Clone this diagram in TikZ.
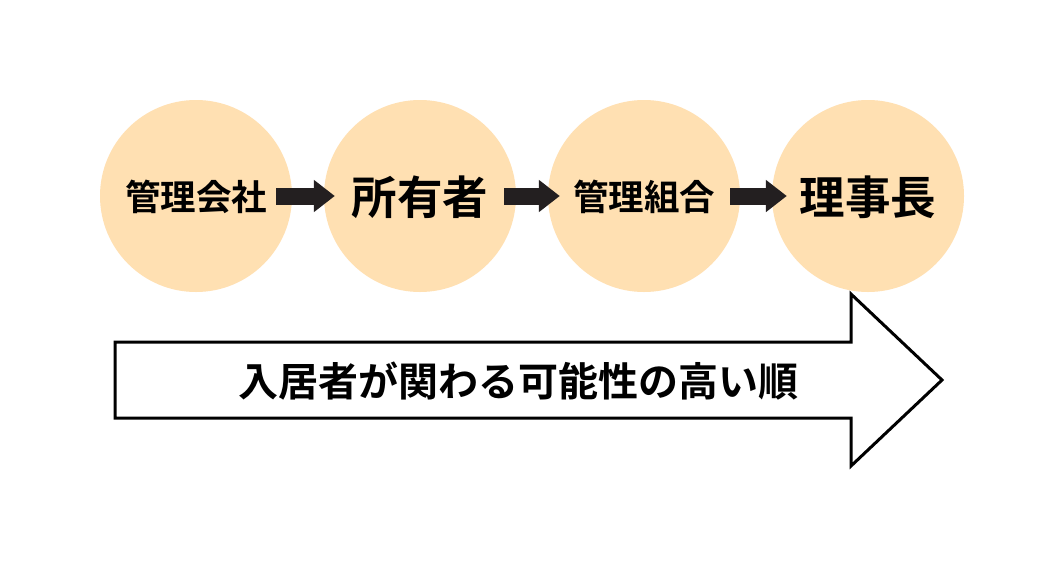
\documentclass[tikz,border=0pt]{standalone}
\usepackage{fontspec}
\newfontfamily\cjk{Noto Sans CJK JP}[BoldFont={Noto Sans CJK JP Bold}]
\usetikzlibrary{arrows.meta,calc}
\definecolor{peach}{RGB}{255,224,178}
\definecolor{darkarrow}{RGB}{35,31,32}
\tikzset{
  circ/.style={circle, fill=peach, minimum size=192pt, inner sep=0pt},
  small/.style={font=\cjk\bfseries\fontsize{35.5pt}{38pt}\selectfont},
  big/.style={font=\cjk\bfseries\fontsize{45.5pt}{48pt}\selectfont},
  flow/.style={darkarrow, line width=17pt, -{Triangle[length=21pt,width=31pt]}},
  bigarrow/.style={draw=black, line width=3pt, fill=white, line join=miter},
}
\begin{document}
\begin{tikzpicture}[x=1pt,y=-1pt]
\useasboundingbox (0,0) rectangle (1064,568);
\fill[white] (0,0) rectangle (1064,568);
\node[circ] (c1) at (196,196) {};
\node[circ] (c2) at (420,196) {};
\node[circ] (c3) at (644,196) {};
\node[circ] (c4) at (868,196) {};
\node[small] (t1) at (196,197) {管理会社};
\node[big] (t2) at (420,197) {所有者};
\node[small] (t3) at (644,197) {管理組合};
\node[big] (t4) at (868,197) {理事長};
\draw[flow] ($(c1.east)+(-16,0)$) -- ($(c2.west)+(11,0)$);
\draw[flow] ($(c2.east)+(-12,0)$) -- ($(c3.west)+(12,0)$);
\draw[flow] ($(c3.east)+(-10,0)$) -- ($(c4.west)+(15,0)$);
\draw[bigarrow] (115,342) -- (851,342) -- (851,294) -- (942,380) -- (851,466) -- (851,418) -- (115,418) -- cycle;
\node[font=\cjk\bfseries\fontsize{40pt}{44pt}\selectfont] (lbl) at (518,381) {入居者が関わる可能性の高い順};
\end{tikzpicture}
\end{document}
